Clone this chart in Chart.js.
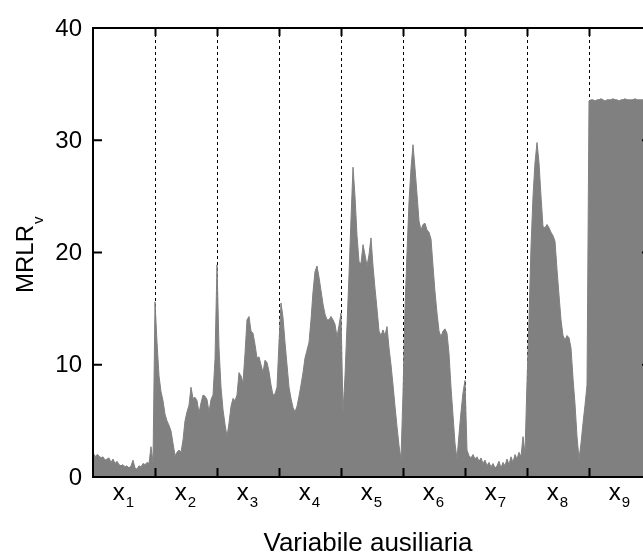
<!DOCTYPE html>
<html lang="it">
    <head>
        <meta charset="UTF-8">
        <title>MRLR per variabile ausiliaria</title>
        <script src="https://cdn.jsdelivr.net/npm/chart.js@4.4.0/dist/chart.umd.min.js"></script>
        <style>
            body { margin: 0; overflow: hidden; background: #fff; }
            #wrap { width: 660px; height: 558px; }
        </style>
    </head>
    <body>
        <div id="wrap">
            <canvas id="mrlrChart" width="660" height="558"></canvas>
        </div>

        <script>
            // one array per auxiliary variable
            const mrlrX1 = [2.2, 1.8, 2.0, 1.9, 1.7, 1.8, 1.5, 1.6, 1.7, 1.3, 1.6, 1.2, 1.4, 1.1, 1.0, 1.1, 0.9, 1.0, 0.8, 1.0, 1.5, 0.8, 0.7, 1.0, 0.9, 1.2, 1.1, 1.3, 1.2, 2.7, 1.3];
            const mrlrX2 = [15.6, 12.0, 9.0, 7.6, 6.8, 5.6, 5.0, 4.6, 4.1, 3.0, 1.9, 2.2, 2.4, 2.2, 3.3, 5.0, 5.8, 6.4, 8.0, 7.0, 7.1, 6.8, 5.7, 6.6, 7.3, 7.2, 6.9, 5.8, 6.9, 7.3, 10.5];
            const mrlrX3 = [18.9, 11.5, 8.0, 6.0, 4.7, 3.6, 4.8, 6.3, 7.0, 6.8, 7.3, 9.3, 9.0, 8.4, 11.0, 14.0, 14.3, 13.0, 12.8, 11.8, 10.6, 10.7, 10.0, 9.3, 10.4, 10.2, 9.4, 8.2, 7.3, 7.4, 8.0];
            const mrlrX4 = [12.0, 15.5, 14.2, 12.0, 10.0, 8.0, 7.0, 6.2, 5.8, 6.3, 7.2, 8.2, 9.3, 10.6, 11.3, 12.0, 14.0, 16.5, 18.3, 18.8, 17.8, 16.6, 15.4, 14.5, 14.0, 14.0, 14.3, 14.0, 13.6, 12.5, 13.5];
            const mrlrX5 = [14.6, 5.8, 9.0, 13.5, 18.0, 23.0, 27.6, 25.0, 21.5, 19.2, 19.0, 20.7, 19.8, 18.8, 19.8, 21.3, 18.8, 16.8, 15.0, 13.0, 12.6, 13.1, 12.6, 13.4, 11.5, 10.0, 8.2, 6.3, 4.5, 2.8, 1.6];
            const mrlrX6 = [7.5, 15.0, 20.0, 24.5, 27.5, 29.6, 27.5, 25.2, 22.8, 22.0, 22.5, 22.6, 22.0, 21.8, 21.2, 18.8, 16.5, 14.6, 13.0, 12.5, 13.0, 13.2, 12.8, 11.0, 8.0, 5.5, 3.0, 1.6, 3.8, 5.8, 7.5];
            const mrlrX7 = [8.6, 2.4, 1.9, 1.7, 2.0, 1.6, 1.8, 1.4, 1.7, 1.2, 1.5, 1.0, 1.3, 0.9, 1.2, 0.8, 1.0, 1.4, 0.8, 1.3, 1.0, 1.6, 1.1, 1.8, 1.3, 2.0, 1.6, 2.2, 1.8, 3.6, 2.1];
            const mrlrX8 = [8.5, 14.0, 20.5, 25.0, 28.0, 29.8, 28.0, 25.0, 22.3, 22.2, 22.5, 22.2, 21.8, 21.5, 21.0, 18.5, 16.2, 14.0, 12.6, 12.2, 12.6, 12.4, 11.5, 8.8, 6.5, 3.6, 1.6, 3.0, 4.8, 6.4, 8.2];
            const mrlrX9 = [33.5, 33.6, 33.6, 33.5, 33.6, 33.6, 33.7, 33.6, 33.5, 33.6, 33.6, 33.6, 33.7, 33.6, 33.6, 33.5, 33.6, 33.6, 33.7, 33.6, 33.6, 33.6, 33.6, 33.7, 33.6, 33.6, 33.6, 33.6, 33.6, 33.6, 33.6];

            const segments = [mrlrX1, mrlrX2, mrlrX3, mrlrX4, mrlrX5, mrlrX6, mrlrX7, mrlrX8, mrlrX9];
            const subscripts = ["1", "2", "3", "4", "5", "6", "7", "8", "9"];
            const yTicks = [0, 10, 20, 30, 40];

            // each variable gets one unit on the x axis
            let points = [];
            segments.forEach((vals, s) => {
                vals.forEach((v, k) => points.push({x: s + k / vals.length, y: v}));
            });

            const fontName = "'Liberation Sans', Arial, sans-serif";

            const frame = {
                id: "frame",
                beforeDatasetsDraw(chart) {
                    const ctx = chart.ctx, a = chart.chartArea, xs = chart.scales.x;
                    ctx.save();
                    ctx.strokeStyle = "#000";
                    ctx.lineWidth = 1;
                    ctx.setLineDash([3, 3]);
                    for (let i = 1; i < segments.length; i++) {
                        const px = Math.round(xs.getPixelForValue(i)) + 0.5;
                        ctx.beginPath();
                        ctx.moveTo(px, a.top);
                        ctx.lineTo(px, a.bottom);
                        ctx.stroke();
                    }
                    ctx.restore();
                },
                afterDatasetsDraw(chart) {
                    const ctx = chart.ctx, a = chart.chartArea;
                    const xs = chart.scales.x, ys = chart.scales.y;
                    ctx.save();
                    ctx.strokeStyle = "#000";
                    ctx.lineWidth = 2;
                    ctx.strokeRect(a.left, a.top, a.right - a.left, a.bottom - a.top);

                    // inner tick marks
                    ctx.beginPath();
                    yTicks.forEach(v => {
                        const py = ys.getPixelForValue(v);
                        ctx.moveTo(a.left, py); ctx.lineTo(a.left + 9, py);
                        ctx.moveTo(a.right, py); ctx.lineTo(a.right - 9, py);
                    });
                    for (let i = 1; i < segments.length; i++) {
                        const px = Math.round(xs.getPixelForValue(i)) + 0.5;
                        ctx.moveTo(px, a.top); ctx.lineTo(px, a.top + 8);
                        ctx.moveTo(px, a.bottom); ctx.lineTo(px, a.bottom - 9);
                    }
                    ctx.stroke();

                    ctx.fillStyle = "#000";
                    // y tick labels
                    ctx.font = "24px " + fontName;
                    ctx.textAlign = "right";
                    ctx.textBaseline = "middle";
                    yTicks.forEach(v => ctx.fillText(String(v), a.left - 11, ys.getPixelForValue(v) + 1));

                    // x labels with subscript
                    ctx.textAlign = "left";
                    ctx.textBaseline = "alphabetic";
                    subscripts.forEach((sub, i) => {
                        const cx = xs.getPixelForValue(i + 0.5);
                        ctx.font = "24px " + fontName;
                        const wx = ctx.measureText("x").width;
                        ctx.font = "15px " + fontName;
                        const ws = ctx.measureText(sub).width;
                        const x0 = cx - (wx + ws) / 2 - 1;
                        ctx.font = "24px " + fontName;
                        ctx.fillText("x", x0, 500);
                        ctx.font = "15px " + fontName;
                        ctx.fillText(sub, x0 + wx + 1, 507);
                    });

                    // axis titles
                    ctx.font = "26px " + fontName;
                    ctx.textAlign = "center";
                    ctx.fillText("Variabile ausiliaria", (a.left + 643) / 2 + 0, 551);

                    ctx.translate(33, 293);
                    ctx.rotate(-Math.PI / 2);
                    ctx.textAlign = "left";
                    ctx.font = "24px " + fontName;
                    ctx.fillText("MRLR", 0, 0);
                    const wm = ctx.measureText("MRLR").width;
                    ctx.font = "15px " + fontName;
                    ctx.fillText("v", wm + 1, 10);
                    ctx.restore();
                }
            };

            new Chart("mrlrChart", {
                type: "line",
                data: {
                    datasets: [{
                        data: points,
                        backgroundColor: "#808080",
                        borderColor: "#808080",
                        borderWidth: 1,
                        pointRadius: 0,
                        fill: "origin",
                        tension: 0
                    }]
                },
                options: {
                    responsive: false,
                    animation: false,
                    layout: {padding: {left: 93, top: 28, right: 9, bottom: 81}},
                    plugins: {legend: {display: false}, tooltip: {enabled: false}},
                    scales: {
                        x: {type: "linear", min: 0, max: segments.length, display: false},
                        y: {min: 0, max: 40, display: false}
                    }
                },
                plugins: [frame]
            });
        </script>
    </body>
</html>
